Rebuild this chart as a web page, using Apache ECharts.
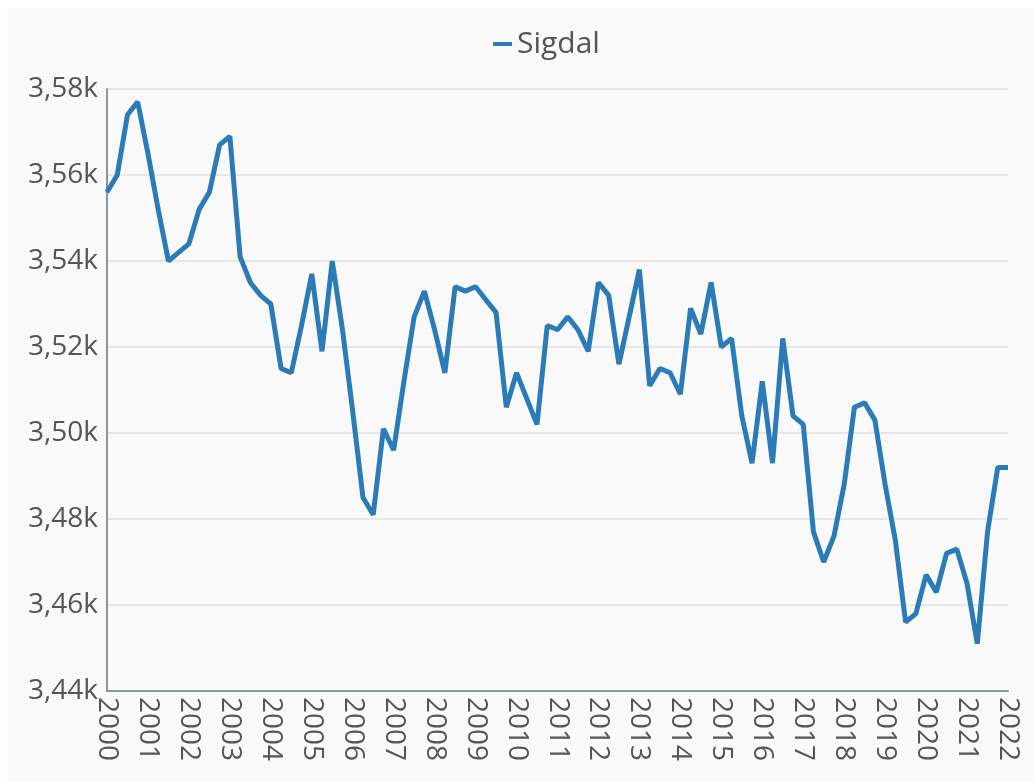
<!DOCTYPE html>
<html>
<head>
<meta charset="utf-8">
<script src="https://cdn.jsdelivr.net/npm/echarts@6/dist/echarts.min.js"></script>
<style>
  body { margin: 0; background: #fff; }
  #sigdal-chart {
    position: absolute;
    left: 7px;
    top: 8px;
    width: 1028px;
    height: 774px;
    background: #f9f9f9;
  }
</style>
</head>
<body>
<div id="sigdal-chart"></div>
<script>
const years = ['2000', '2001', '2002', '2003', '2004', '2005', '2006', '2007', '2008', '2009', '2010',
  '2011', '2012', '2013', '2014', '2015', '2016', '2017', '2018', '2019', '2020', '2021', '2022']
const quarters = ['K1', 'K2', 'K3', 'K4']
const seriesName = 'Sigdal'
// innbyggjarar per kvartal, 2000K1 - 2022K1
const population = [
  3556, 3560, 3574, 3577, 3565, 3552, 3540, 3542, 3544, 3552, 3556, 3567,
  3569, 3541, 3535, 3532, 3530, 3515, 3514, 3525, 3537, 3519, 3540, 3524,
  3505, 3485, 3481, 3501, 3496, 3512, 3527, 3533, 3524, 3514, 3534, 3533,
  3534, 3531, 3528, 3506, 3514, 3508, 3502, 3525, 3524, 3527, 3524, 3519,
  3535, 3532, 3516, 3527, 3538, 3511, 3515, 3514, 3509, 3529, 3523, 3535,
  3520, 3522, 3504, 3493, 3512, 3493, 3522, 3504, 3502, 3477, 3470, 3476,
  3488, 3506, 3507, 3503, 3488, 3475, 3456, 3458, 3467, 3463, 3472, 3473,
  3465, 3451, 3477, 3492, 3492
]
const yTicks = [3440, 3460, 3480, 3500, 3520, 3540, 3560, 3580]

const categories = []
for (let i = 0; i < population.length; i++) {
  categories.push(years[Math.floor(i / 4)] + quarters[i % 4])
}

const myChart = echarts.init(document.getElementById('sigdal-chart'))
myChart.setOption({
  animation: false,
  textStyle: {
    fontFamily: 'Open Sans'
  },
  legend: {
    top: 16,
    left: 481,
    icon: 'rect',
    itemWidth: 19,
    itemHeight: 4,
    itemGap: 6,
    textStyle: {
      fontSize: 30,
      color: '#555'
    },
    data: [seriesName]
  },
  grid: {
    left: 100,
    right: 27,
    top: 81,
    bottom: 91
  },
  xAxis: {
    type: 'category',
    data: categories,
    boundaryGap: false,
    axisLine: {
      lineStyle: {
        color: '#8a969c',
        width: 2
      }
    },
    axisTick: {
      show: false
    },
    axisLabel: {
      interval: 3,
      rotate: -90,
      margin: 6,
      fontSize: 28,
      color: '#555',
      formatter: function (v) {
        return v.slice(0, 4)
      }
    },
    splitLine: {
      show: false
    }
  },
  yAxis: {
    type: 'value',
    min: yTicks[0],
    max: yTicks[yTicks.length - 1],
    interval: 20,
    axisLine: {
      show: true,
      lineStyle: {
        color: '#8a969c',
        width: 2
      }
    },
    axisTick: {
      show: false
    },
    axisLabel: {
      fontSize: 28,
      color: '#555',
      margin: 9,
      formatter: function (v) {
        return (v / 1000).toFixed(2).replace('.', ',') + 'k'
      }
    },
    splitLine: {
      lineStyle: {
        color: '#e4e8e9',
        width: 2
      }
    }
  },
  series: [
    {
      name: seriesName,
      type: 'line',
      data: population,
      showSymbol: false,
      lineStyle: {
        color: '#2b7bb9',
        width: 5
      },
      itemStyle: {
        color: '#2b7bb9'
      }
    }
  ]
})
</script>
</body>
</html>
